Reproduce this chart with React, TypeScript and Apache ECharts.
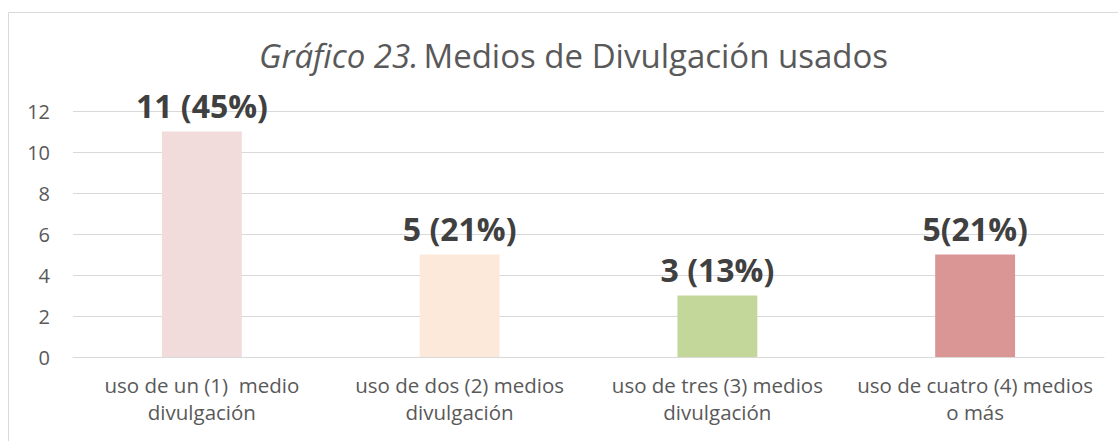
import React, { useEffect, useRef } from "react";
import * as echarts from "echarts";

const categories = [
  "uso de un (1)  medio\ndivulgación",
  "uso de dos (2) medios\ndivulgación",
  "uso de tres (3) medios\ndivulgación",
  "uso de cuatro (4) medios\no más",
];
const values = [11, 5, 3, 5];
const valueLabels = ["11 (45%)", "5 (21%)", "3 (13%)", "5(21%)"];
const barColors = ["#F2DCDB", "#FDE9D9", "#C4D79B", "#DA9694"];
const yTicks = [0, 2, 4, 6, 8, 10, 12];

const FONT = "'Open Sans', sans-serif";

export default function App() {
  const ref = useRef<HTMLDivElement>(null);
  useEffect(() => {
    if (!ref.current) return;
    const chart = echarts.init(ref.current, undefined, { renderer: "svg" });
    chart.setOption({
      animation: false,
      backgroundColor: "#ffffff",
      title: {
        text: "{i|Gráfico 23.} {n|Medios de Divulgación usados}",
        left: 254,
        top: 34,
        textStyle: {
          fontWeight: "normal",
          rich: {
            i: { fontFamily: FONT, fontSize: 33, fontStyle: "italic", fontWeight: "normal", color: "#595959" },
            n: { fontFamily: FONT, fontSize: 33, fontWeight: "normal", color: "#595959" },
          },
        },
      },
      graphic: [
        {
          type: "rect",
          shape: { x: 8.5, y: 12.5, width: 1200, height: 600 },
          style: { fill: "none", stroke: "#D9D9D9", lineWidth: 1 },
          silent: true,
          z: -1,
        },
      ],
      grid: { left: 73, right: 14, top: 111, bottom: 84 },
      xAxis: {
        type: "category",
        data: categories,
        axisLine: { show: true, lineStyle: { color: "#D9D9D9", width: 1 } },
        axisTick: { show: false },
        axisLabel: {
          fontFamily: FONT,
          fontSize: 20.5,
          color: "#595959",
          lineHeight: 27,
          margin: 14,
          interval: 0,
        },
      },
      yAxis: {
        type: "value",
        min: yTicks[0],
        max: yTicks[yTicks.length - 1],
        interval: 2,
        axisLine: { show: false },
        axisTick: { show: false },
        splitLine: { lineStyle: { color: "#D9D9D9", width: 1 } },
        axisLabel: { fontFamily: FONT, fontSize: 20, color: "#595959", margin: 23 },
      },
      series: [
        {
          type: "bar",
          barWidth: "31%",
          data: values.map((v, i) => ({ value: v, itemStyle: { color: barColors[i] } })),
          label: {
            show: true,
            position: "top",
            distance: 10,
            fontFamily: FONT,
            fontSize: 32,
            fontWeight: "bold",
            color: "#404040",
            formatter: (p: any) => valueLabels[p.dataIndex],
          },
        },
      ],
    });
    return () => chart.dispose();
  }, []);
  return (
    <div
      ref={ref}
      style={{ position: "fixed", left: 0, top: 0, width: 1118, height: 441 }}
    />
  );
}
